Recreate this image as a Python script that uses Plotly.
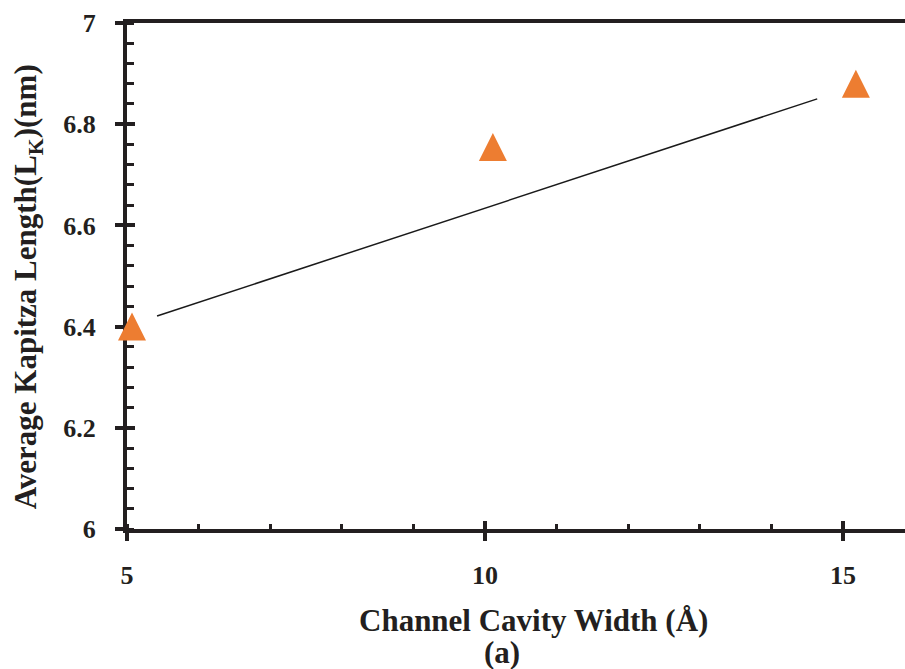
import plotly.graph_objects as go

# Measured points: channel cavity width (Å) vs average Kapitza length (nm)
cavity_width = [5.07, 10.11, 15.18]
kapitza_length = [6.40, 6.755, 6.88]

# Linear trend line, drawn between its two end points
trend_width = [5.42, 14.64]
trend_length = [6.421, 6.850]

x_ticks = [5, 10, 15]
y_ticks = [6.0, 6.2, 6.4, 6.6, 6.8, 7.0]
y_tick_text = ["6", "6.2", "6.4", "6.6", "6.8", "7"]

AXIS = "#231F20"
ORANGE = "#ED7D31"
FONT = "Liberation Serif"

x_range = [5, 15.866]
y_range = [6, 7]

fig = go.Figure()

fig.add_trace(go.Scatter(
    x=trend_width, y=trend_length, mode="lines",
    line=dict(color="#1a1a1a", width=1.5),
    hoverinfo="skip", showlegend=False,
))

# Upward triangles centred on each point (arrow symbol turned round and
# pushed back by half its height so the box centre sits on the value)
fig.add_trace(go.Scatter(
    x=cavity_width, y=kapitza_length, mode="markers",
    marker=dict(symbol="arrow-down", size=28, angle=180, standoff=14,
                color=ORANGE, line=dict(width=0)),
    cliponaxis=False, showlegend=False,
))

# Empty trace that carries the overlay axes used for the inner half of
# the major ticks
fig.add_trace(go.Scatter(x=[], y=[], xaxis="x2", yaxis="y2",
                         showlegend=False, hoverinfo="skip"))

tick_font = dict(family=FONT, size=26, color=AXIS, weight="bold")
title_font = dict(family=FONT, size=31, color=AXIS, weight="bold")

fig.update_layout(
    width=905, height=669,
    margin=dict(l=127, r=0, t=23, b=140),
    paper_bgcolor="white", plot_bgcolor="white",
    showlegend=False,
    xaxis=dict(
        range=x_range, showgrid=False, zeroline=False,
        showline=True, linecolor=AXIS, linewidth=4, mirror=True,
        tickmode="array", tickvals=x_ticks, ticktext=[str(v) for v in x_ticks],
        ticks="outside", ticklen=8, tickwidth=4, tickcolor=AXIS,
        tickfont=tick_font, ticklabelstandoff=12,
        minor=dict(dtick=1, tick0=5, ticks="inside", ticklen=5,
                   tickwidth=3, tickcolor=AXIS, showgrid=False),
        layer="below traces",
    ),
    yaxis=dict(
        range=y_range, showgrid=False, zeroline=False,
        showline=True, linecolor=AXIS, linewidth=4, mirror=False,
        tickmode="array", tickvals=y_ticks, ticktext=y_tick_text,
        ticks="outside", ticklen=8, tickwidth=4, tickcolor=AXIS,
        tickfont=tick_font, ticklabelstandoff=14,
        minor=dict(dtick=0.04, tick0=6, ticks="inside", ticklen=7,
                   tickwidth=3, tickcolor=AXIS, showgrid=False),
        layer="below traces",
    ),
    xaxis2=dict(
        overlaying="x", anchor="y2", side="bottom", range=x_range,
        showgrid=False, zeroline=False, showline=False,
        tickmode="array", tickvals=x_ticks, showticklabels=False,
        ticks="inside", ticklen=8, tickwidth=4, tickcolor=AXIS,
        layer="below traces",
    ),
    yaxis2=dict(
        overlaying="y", anchor="x2", side="left", range=y_range,
        showgrid=False, zeroline=False, showline=False,
        tickmode="array", tickvals=y_ticks, showticklabels=False,
        ticks="inside", ticklen=8, tickwidth=4, tickcolor=AXIS,
        layer="below traces",
    ),
    annotations=[
        dict(text="Average Kapitza Length(L<sub>K</sub>)(nm)",
             xref="paper", yref="paper", x=-0.127, y=0.478,
             xanchor="center", yanchor="middle", textangle=-90,
             showarrow=False, font=title_font),
        dict(text="Channel Cavity Width (Å)",
             xref="paper", yref="paper", x=0.523, y=-0.18,
             xanchor="center", yanchor="middle", showarrow=False,
             font=title_font),
        dict(text="(a)",
             xref="paper", yref="paper", x=0.482, y=-0.245,
             xanchor="center", yanchor="middle", showarrow=False,
             font=title_font),
    ],
)

fig.write_html("out.html")
